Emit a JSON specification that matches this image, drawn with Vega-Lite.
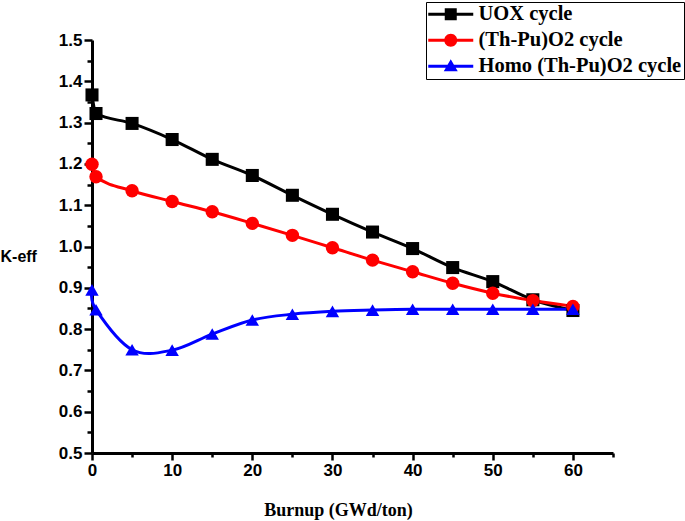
{
  "$schema": "https://vega.github.io/schema/vega-lite/v6.json",
  "autosize": "none",
  "width": 521,
  "height": 413,
  "padding": {"left": 92, "top": 40, "right": 72, "bottom": 68},
  "background": "white",
  "config": {"view": {"stroke": null}},
  "data": {"values": [
    {"series": "UOX cycle", "burnup": 0, "keff": 1.367},
    {"series": "UOX cycle", "burnup": 0.5, "keff": 1.322},
    {"series": "UOX cycle", "burnup": 5, "keff": 1.298},
    {"series": "UOX cycle", "burnup": 10, "keff": 1.259},
    {"series": "UOX cycle", "burnup": 15, "keff": 1.211},
    {"series": "UOX cycle", "burnup": 20, "keff": 1.172},
    {"series": "UOX cycle", "burnup": 25, "keff": 1.124},
    {"series": "UOX cycle", "burnup": 30, "keff": 1.078},
    {"series": "UOX cycle", "burnup": 35, "keff": 1.035},
    {"series": "UOX cycle", "burnup": 40, "keff": 0.995},
    {"series": "UOX cycle", "burnup": 45, "keff": 0.949},
    {"series": "UOX cycle", "burnup": 50, "keff": 0.915},
    {"series": "UOX cycle", "burnup": 55, "keff": 0.871},
    {"series": "UOX cycle", "burnup": 60, "keff": 0.845},
    {"series": "(Th-Pu)O2 cycle", "burnup": 0, "keff": 1.199},
    {"series": "(Th-Pu)O2 cycle", "burnup": 0.5, "keff": 1.169},
    {"series": "(Th-Pu)O2 cycle", "burnup": 5, "keff": 1.135},
    {"series": "(Th-Pu)O2 cycle", "burnup": 10, "keff": 1.109},
    {"series": "(Th-Pu)O2 cycle", "burnup": 15, "keff": 1.084},
    {"series": "(Th-Pu)O2 cycle", "burnup": 20, "keff": 1.056},
    {"series": "(Th-Pu)O2 cycle", "burnup": 25, "keff": 1.027},
    {"series": "(Th-Pu)O2 cycle", "burnup": 30, "keff": 0.997},
    {"series": "(Th-Pu)O2 cycle", "burnup": 35, "keff": 0.967},
    {"series": "(Th-Pu)O2 cycle", "burnup": 40, "keff": 0.939},
    {"series": "(Th-Pu)O2 cycle", "burnup": 45, "keff": 0.911},
    {"series": "(Th-Pu)O2 cycle", "burnup": 50, "keff": 0.887},
    {"series": "(Th-Pu)O2 cycle", "burnup": 55, "keff": 0.869},
    {"series": "(Th-Pu)O2 cycle", "burnup": 60, "keff": 0.855},
    {"series": "Homo (Th-Pu)O2 cycle", "burnup": 0, "keff": 0.895},
    {"series": "Homo (Th-Pu)O2 cycle", "burnup": 0.5, "keff": 0.847},
    {"series": "Homo (Th-Pu)O2 cycle", "burnup": 5, "keff": 0.750},
    {"series": "Homo (Th-Pu)O2 cycle", "burnup": 10, "keff": 0.749},
    {"series": "Homo (Th-Pu)O2 cycle", "burnup": 15, "keff": 0.788},
    {"series": "Homo (Th-Pu)O2 cycle", "burnup": 20, "keff": 0.822},
    {"series": "Homo (Th-Pu)O2 cycle", "burnup": 25, "keff": 0.836},
    {"series": "Homo (Th-Pu)O2 cycle", "burnup": 30, "keff": 0.843},
    {"series": "Homo (Th-Pu)O2 cycle", "burnup": 35, "keff": 0.846},
    {"series": "Homo (Th-Pu)O2 cycle", "burnup": 40, "keff": 0.848},
    {"series": "Homo (Th-Pu)O2 cycle", "burnup": 45, "keff": 0.848},
    {"series": "Homo (Th-Pu)O2 cycle", "burnup": 50, "keff": 0.848},
    {"series": "Homo (Th-Pu)O2 cycle", "burnup": 55, "keff": 0.848},
    {"series": "Homo (Th-Pu)O2 cycle", "burnup": 60, "keff": 0.848}
  ]},
  "encoding": {
    "x": {
      "field": "burnup", "type": "quantitative",
      "scale": {"domain": [0, 65], "nice": false, "zero": false},
      "axis": {
        "values": [0, 5, 10, 15, 20, 25, 30, 35, 40, 45, 50, 55, 60, 65],
        "labelExpr": "datum.value % 10 == 0 && datum.value <= 60 ? datum.value : ''",
        "grid": false,
        "domainColor": "black", "domainWidth": 3,
        "tickColor": "black", "tickWidth": 2.5,
        "tickSize": {"condition": {"test": "datum.value % 10 == 0", "value": 7}, "value": 4},
        "labelFont": "Liberation Sans", "labelFontWeight": "bold", "labelFontSize": 17, "labelColor": "black",
        "labelPadding": 2, "labelFlush": false, "labelOverlap": false,
        "title": "Burnup (GWd/ton)",
        "titleFont": "Liberation Serif", "titleFontWeight": "bold", "titleFontSize": 18, "titleColor": "black",
        "titleAnchor": "start", "titleAlign": "center", "titleX": 246, "titleY": 62, "titleBaseline": "alphabetic"
      }
    },
    "y": {
      "field": "keff", "type": "quantitative",
      "scale": {"domain": [0.5, 1.5], "nice": false, "zero": false},
      "axis": {
        "values": [0.5, 0.55, 0.6, 0.65, 0.7, 0.75, 0.8, 0.85, 0.9, 0.95, 1.0, 1.05, 1.1, 1.15, 1.2, 1.25, 1.3, 1.35, 1.4, 1.45, 1.5],
        "labelExpr": "abs(datum.value*10 - round(datum.value*10)) < 0.001 ? format(datum.value, '.1f') : ''",
        "grid": false,
        "domainColor": "black", "domainWidth": 3,
        "tickColor": "black", "tickWidth": 2.5,
        "tickSize": {"condition": {"test": "abs(datum.value*10 - round(datum.value*10)) < 0.001", "value": 8}, "value": 5},
        "labelFont": "Liberation Sans", "labelFontWeight": "bold", "labelFontSize": 17, "labelColor": "black",
        "labelPadding": 2, "labelFlush": false, "labelOverlap": false,
        "title": "K-eff",
        "titleFont": "Liberation Sans", "titleFontWeight": "bold", "titleFontSize": 16, "titleColor": "black",
        "titleAngle": 0, "titleAlign": "left", "titleBaseline": "middle", "titleX": -92, "titleY": 216
      }
    },
    "color": {
      "field": "series", "type": "nominal",
      "scale": {"domain": ["UOX cycle", "(Th-Pu)O2 cycle", "Homo (Th-Pu)O2 cycle"], "range": ["#000000", "#ff0000", "#0000ff"]},
      "legend": {
        "orient": "none", "legendX": 334, "legendY": -38,
        "title": null,
        "strokeColor": "black", "fillColor": "white",
        "padding": 2,
        "symbolSize": 400,
        "rowPadding": 5,
        "labelFont": "Liberation Serif", "labelFontWeight": "bold", "labelFontSize": 20.5, "labelColor": "black",
        "labelLimit": 400,
        "labelOffset": 30,
        "encode": {
          "symbols": {"update": {
            "shape": {"signal": "datum.value == 'UOX cycle' ? 'M-1,-0.16H3.5V0.16H-1Z M0.65,-0.6H1.85V0.6H0.65Z' : datum.value == '(Th-Pu)O2 cycle' ? 'M-1,-0.16H3.5V0.16H-1Z M0.6,0 A0.65,0.65 0 1,1 1.9,0 A0.65,0.65 0 1,1 0.6,0Z' : 'M-1,-0.16H3.5V0.16H-1Z M1.25,-0.7 L1.95,0.5 L0.55,0.5Z'"},
            "fill": {"signal": "scale('color', datum.value)"},
            "strokeWidth": {"signal": "0"}
          }}
        }
      }
    }
  },
  "layer": [
    {"transform": [{"filter": "datum.series != 'Homo (Th-Pu)O2 cycle'"}],
     "mark": {"type": "line", "strokeWidth": 3, "interpolate": "monotone"}},
    {"transform": [{"filter": "datum.series == 'Homo (Th-Pu)O2 cycle'"}],
     "mark": {"type": "line", "strokeWidth": 3, "interpolate": "cardinal"}},
    {"transform": [{"filter": "datum.series == 'UOX cycle'"}],
     "mark": {"type": "point", "filled": true, "opacity": 1, "size": 170, "shape": "square"}},
    {"transform": [{"filter": "datum.series == '(Th-Pu)O2 cycle'"}],
     "mark": {"type": "point", "filled": true, "opacity": 1, "size": 180, "shape": "circle"}},
    {"transform": [{"filter": "datum.series == 'Homo (Th-Pu)O2 cycle'"}],
     "mark": {"type": "point", "filled": true, "opacity": 1, "size": 180, "shape": "triangle-up"}}
  ]
}
